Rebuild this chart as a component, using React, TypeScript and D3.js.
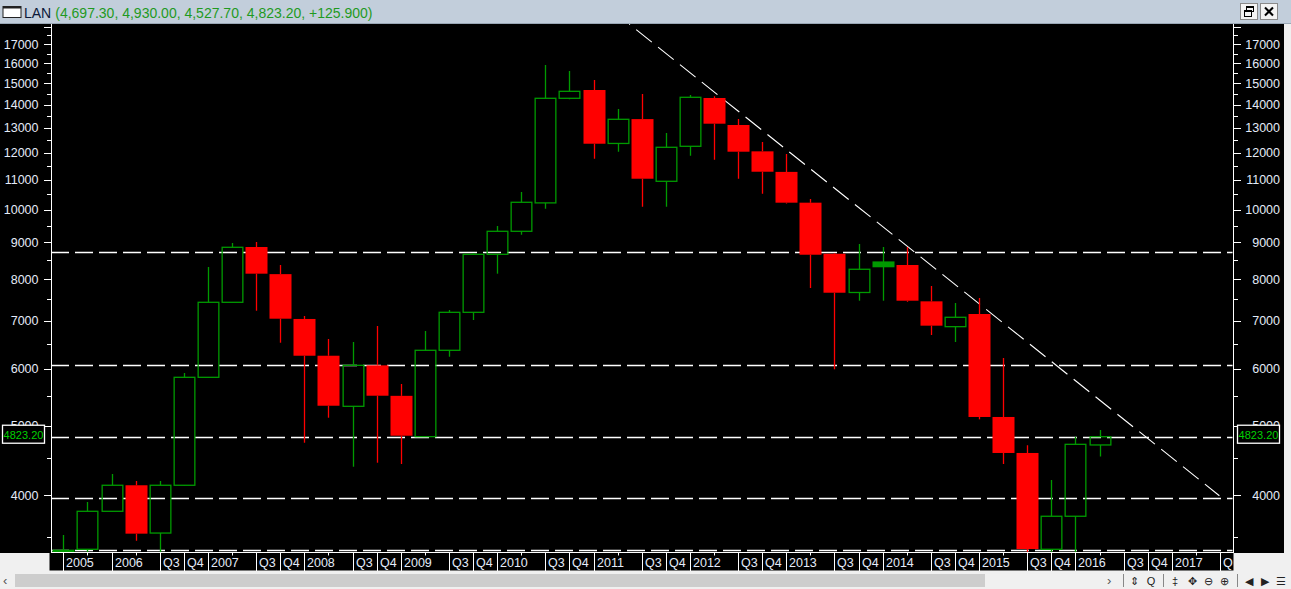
import React from "react";
import * as d3 from "d3";

// ---------- DATA ----------
// Quarterly candles, first = 2005 Q3, last = 2016 Q2
const opens = [3330, 3360, 3796, 4127, 3540, 4127, 5837, 7427, 8870, 8130, 7040, 6256, 5318, 6066, 5500, 4824, 6366, 7192, 8664, 9329, 10220, 14300, 14686, 12370, 13376, 10954, 12257, 14314, 13125, 12060, 11290, 10227, 8680, 7665, 8327, 8372, 7450, 6868, 7153, 5139, 4578, 3360, 3736, 4697.3];
const highs = [3518, 3911, 4279, 4184, 4184, 5918, 8319, 8985, 9014, 8372, 7108, 6601, 6538, 6883, 5713, 6773, 7246, 8700, 9490, 10584, 15912, 15609, 15165, 13816, 14498, 12792, 14450, 14400, 13376, 12427, 11958, 10349, 8700, 8957, 8870, 8870, 7826, 7410, 7530, 6211, 4692, 4197, 4823, 4930];
const lows = [3300, 3320, 3790, 3454, 3300, 4120, 5830, 7420, 7229, 6523, 4731, 5127, 4380, 4437, 4419, 4820, 6236, 7016, 8142, 9228, 10031, 14260, 11779, 12046, 10096, 10096, 11892, 11741, 11045, 10526, 10200, 7776, 5989, 7465, 7465, 7440, 6686, 6538, 5100, 4419, 3300, 3300, 3300, 4527.7];
const closes = [3350, 3796, 4127, 3533, 4127, 5837, 7427, 8862, 8142, 7046, 6256, 5328, 6066, 5502, 4839, 6366, 7192, 8664, 9329, 10240, 14300, 14624, 12359, 13367, 11045, 12218, 14346, 13180, 12046, 11296, 10227, 8653, 7659, 8258, 8453, 7465, 6890, 7078, 5139, 4578, 3363, 3736, 4707, 4823.2];

// date axis: one label per quarter (2005 Q3 .. 2017 Q3)
const dateLabels = [
  "2005", "", "2006", "", "Q3", "Q4", "2007", "", "Q3", "Q4", "2008", "", "Q3", "Q4",
  "2009", "", "Q3", "Q4", "2010", "", "Q3", "Q4", "2011", "", "Q3", "Q4", "2012", "",
  "Q3", "Q4", "2013", "", "Q3", "Q4", "2014", "", "Q3", "Q4", "2015", "", "Q3", "Q4",
  "2016", "", "Q3", "Q4", "2017", "", "Q3",
];

const yMajorTicks = [4000, 5000, 6000, 7000, 8000, 9000, 10000, 11000, 12000, 13000, 14000, 15000, 16000, 17000, 18000];
const yLabelTicks = [4000, 5000, 6000, 7000, 8000, 9000, 10000, 11000, 12000, 13000, 14000, 15000, 16000, 17000];
const yMinorTicks = [3500, 4500, 5500, 6500, 7500, 8500, 9500, 10500, 11500, 12500, 13500, 14500, 15500, 16500, 17500];

const hLevels = [8720, 6065, 4823.2, 3958, 3352];
const trendQ = [23.48, 47.97];
const trendV = [18152, 3991];
const lastPrice = 4823.2;
const lastPriceText = "4823.20";
const symbol = "LAN";
const titleValues = "(4,697.30, 4,930.00, 4,527.70, 4,823.20, +125.900)";

// ---------- LAYOUT ----------
const W = 1291;
const H = 589;
const plotL = 51;
const plotR = 1233;
const plotT = 24;
const plotB = 552;
const FONT = "'Liberation Sans', Arial, sans-serif";
const GREEN = "#009a00";
const RED = "#ff0000";
const AXIS_TXT = "#e4ebf8";

export default function App() {
  React.useEffect(() => {
    document.body.style.margin = "0";
  }, []);

  const x = d3.scaleLinear().domain([0, 48]).range([63.3, 1220.1]);
  const y = d3.scaleLog().domain([4000, 17000]).range([495, 44.44]);
  const bw = 22;

  const trendPts: [number, number][] = trendQ.map((q, i) => [x(q), y(trendV[i])]);
  const line = d3.line();

  const py = y(lastPrice);

  return (
    <svg width={W} height={H} style={{ position: "fixed", left: 0, top: 0, display: "block" }} fontFamily={FONT}>
      <defs>
        <clipPath id="plotClip">
          <rect x={plotL + 0.5} y={plotT} width={plotR - plotL - 1} height={plotB - plotT} />
        </clipPath>
        <clipPath id="dateClip">
          <rect x={plotL} y={plotB} width={plotR - plotL} height={20} />
        </clipPath>
      </defs>
      {/* window background */}
      <rect x={0} y={0} width={W} height={H} fill="#f0f0f0" />
      {/* title bar */}
      <rect x={0} y={0} width={W} height={24} fill="#c2cedb" />
      <line x1={0} x2={W} y1={23.5} y2={23.5} stroke="#9aa8b6" />
      <rect x={3} y={6.5} width={18} height={11} fill="#fff" stroke="#222" strokeWidth={1} />
      <line x1={3} x2={21} y1={7.5} y2={7.5} stroke="#222" strokeWidth={2} />
      <text x={24} y={18} fontSize={14} fill="#0c1838">
        {symbol}
        <tspan dx={4} fill="#1f9a1f">{titleValues}</tspan>
      </text>
      {/* window buttons */}
      <rect x={1240.5} y={3.5} width={17} height={16} fill="#f4f4f4" stroke="#8a8a8a" />
      <rect x={1260.5} y={3.5} width={17} height={16} fill="#f4f4f4" stroke="#8a8a8a" />
      <rect x={1246.5} y={6.5} width={7} height={5} fill="none" stroke="#000" strokeWidth={1} />
      <line x1={1246} x2={1254} y1={7} y2={7} stroke="#000" strokeWidth={2} />
      <rect x={1244.5} y={10.5} width={7} height={6} fill="#f4f4f4" stroke="#000" strokeWidth={1} />
      <line x1={1244} x2={1252} y1={11} y2={11} stroke="#000" strokeWidth={2} />
      <line x1={1265} x2={1273} y1={7.5} y2={15.5} stroke="#000" strokeWidth={2} />
      <line x1={1273} x2={1265} y1={7.5} y2={15.5} stroke="#000" strokeWidth={2} />

      {/* black chart area */}
      <rect x={0} y={plotT} width={1284} height={plotB - plotT + 1} fill="#000" />
      <rect x={plotL - 1.5} y={plotB} width={plotR - plotL + 2} height={18.5} fill="#000" />

      {/* plot content */}
      <g clipPath="url(#plotClip)">
        {hLevels.map((v, i) => (
          <line key={"h" + i} x1={plotL} x2={plotR} y1={Math.round(y(v)) + 0.5} y2={Math.round(y(v)) + 0.5}
            stroke="#fff" strokeWidth={1.4} strokeDasharray="18 6" />
        ))}
        <path d={line(trendPts) || ""} stroke="#fff" strokeWidth={1.1} strokeDasharray="20 8" strokeDashoffset={-9} fill="none" />
        {opens.map((o, i) => {
          const c = closes[i];
          const up = c >= o;
          const cx = Math.round(x(i)) + 0.5;
          const yTop = y(Math.max(o, c));
          const yBot = y(Math.min(o, c));
          const col = up ? GREEN : RED;
          const hgt = yBot - yTop;
          return (
            <g key={"c" + i}>
              <line x1={cx} x2={cx} y1={y(highs[i])} y2={yTop} stroke={col} strokeWidth={1.3} />
              <line x1={cx} x2={cx} y1={yBot} y2={y(lows[i])} stroke={col} strokeWidth={1.3} />
              {up ? (
                hgt < 5 ? (
                  <rect x={cx - bw / 2} y={yTop - 0.6} width={bw} height={Math.max(hgt, 1) + 1.2} fill={col} />
                ) : (
                  <rect x={cx - bw / 2 + 0.65} y={yTop} width={bw - 1.3} height={hgt} fill="none" stroke={col} strokeWidth={1.3} />
                )
              ) : (
                <rect x={cx - bw / 2} y={yTop} width={bw} height={Math.max(hgt, 1)} fill={col} />
              )}
            </g>
          );
        })}
      </g>

      {/* axes lines */}
      <line x1={plotL + 0.5} x2={plotL + 0.5} y1={plotT} y2={plotB + 1} stroke="#fff" strokeWidth={1} />
      <line x1={plotR + 0.5} x2={plotR + 0.5} y1={plotT} y2={plotB + 1} stroke="#fff" strokeWidth={1} />
      <line x1={plotL} x2={plotR + 1} y1={plotB + 0.5} y2={plotB + 0.5} stroke="#fff" strokeWidth={1} />

      {/* y ticks */}
      {yMajorTicks.map((v) => {
        const ty = Math.round(y(v)) + 0.5;
        return (
          <g key={"M" + v}>
            <line x1={plotL - 7} x2={plotL} y1={ty} y2={ty} stroke="#fff" />
            <line x1={plotR + 1} x2={plotR + 8} y1={ty} y2={ty} stroke="#fff" />
          </g>
        );
      })}
      {yMinorTicks.map((v) => {
        const ty = Math.round(y(v)) + 0.5;
        return (
          <g key={"m" + v}>
            <line x1={plotL - 4} x2={plotL} y1={ty} y2={ty} stroke="#fff" />
            <line x1={plotR + 1} x2={plotR + 5} y1={ty} y2={ty} stroke="#fff" />
          </g>
        );
      })}
      {yLabelTicks.map((v) => (
        <g key={"L" + v} fontSize={12.5} fill={AXIS_TXT}>
          <text x={38.5} y={y(v) + 4.5} textAnchor="end">{v}</text>
          <text x={1280} y={y(v) + 4.5} textAnchor="end">{v}</text>
        </g>
      ))}

      {/* last price boxes */}
      <rect x={2.5} y={py - 11.5} width={42} height={18} fill="#000" stroke="#fff" strokeWidth={1.3} />
      <text x={23.5} y={py + 2} fontSize={11} fill="#00d000" textAnchor="middle">{lastPriceText}</text>
      <rect x={1237.5} y={py - 11.5} width={42} height={18} fill="#000" stroke="#fff" strokeWidth={1.3} />
      <text x={1258.5} y={py + 2} fontSize={11} fill="#00d000" textAnchor="middle">{lastPriceText}</text>

      {/* date axis */}
      <g clipPath="url(#dateClip)">
        {dateLabels.map((t, i) => {
          const tx = Math.round(x(i)) + 0.5;
          return (
            <g key={"d" + i}>
              <line x1={tx} x2={tx} y1={plotB} y2={plotB + 3.5} stroke="#fff" />
              {t !== "" && (
                <>
                  <line x1={tx} x2={tx} y1={plotB} y2={plotB + 19} stroke="#fff" />
                  <text x={tx + 2.5} y={plotB + 15} fontSize={12.5} fill={AXIS_TXT}>{t}</text>
                </>
              )}
            </g>
          );
        })}
      </g>

      {/* scroll bar */}
      <rect x={15} y={574} width={970} height={13} fill="#cdcdcd" />
      <text x={3} y={585} fontSize={13} fill="#555">‹</text>
      <text x={1107} y={585} fontSize={13} fill="#555">›</text>
      <g fontSize={11} fill="#222" textAnchor="middle">
        <line x1={1123.5} x2={1123.5} y1={574} y2={587} stroke="#888" />
        <text x={1134} y={585}>⇕</text>
        <text x={1151} y={585}>Q</text>
        <line x1={1163.5} x2={1163.5} y1={574} y2={587} stroke="#888" />
        <text x={1175} y={585}>‡</text>
        <text x={1192} y={585}>✥</text>
        <text x={1208} y={585}>⊖</text>
        <text x={1224} y={585}>⊕</text>
        <line x1={1237.5} x2={1237.5} y1={574} y2={587} stroke="#888" />
        <text x={1249} y={585}>◀</text>
        <text x={1265} y={585}>▶</text>
        <text x={1281} y={585}>☰</text>
      </g>
    </svg>
  );
}
